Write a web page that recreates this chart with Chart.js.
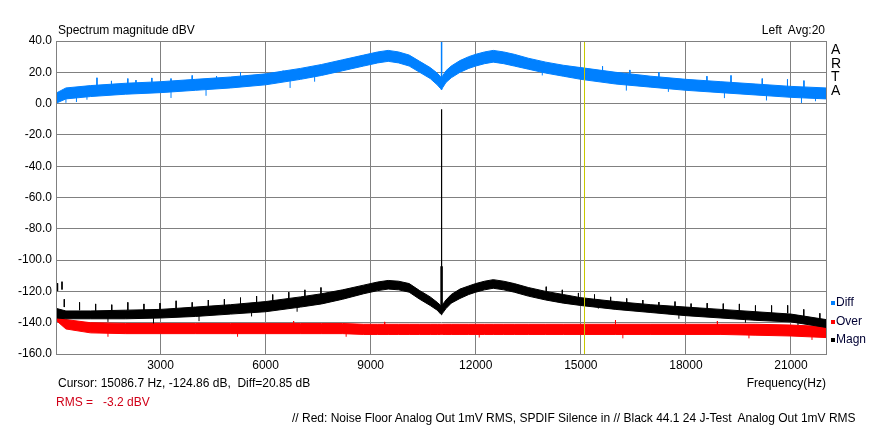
<!DOCTYPE html>
<html>
<head>
<meta charset="utf-8">
<script src="https://cdn.jsdelivr.net/npm/chart.js@4.4.1/dist/chart.umd.min.js"></script>
<style>
  body { margin: 0; background: #fff; }
  #wrap { position: relative; width: 882px; height: 429px; font-family: "Liberation Sans", Arial, sans-serif; font-size: 12px; color: #000; }
  #wrap canvas { position: absolute; left: 0; top: 0; }
  .txt { position: absolute; white-space: pre; line-height: 12px; }
  .sq { display: inline-block; width: 4px; height: 4px; margin-right: 1px; vertical-align: 1px; }
</style>
</head>
<body>
<div id="wrap">
  <canvas id="spectrum" width="882" height="429"></canvas>
  <div class="txt" style="left:58px; top:24px;">Spectrum magnitude dBV</div>
  <div class="txt" style="right:57px; top:24px;">Left  Avg:20</div>
  <div class="txt" style="left:831px; top:43px; font-size:14px; line-height:13.6px;">A<br>R<br>T<br>A</div>
  <div class="txt" style="left:831px; top:296px; color:#000033;"><span class="sq" style="background:#0080ff"></span>Diff</div>
  <div class="txt" style="left:831px; top:315px; color:#000033;"><span class="sq" style="background:#ff0000"></span>Over</div>
  <div class="txt" style="left:831px; top:333px; color:#000033;"><span class="sq" style="background:#000"></span>Magn</div>
  <div class="txt" style="left:58px; top:377px;">Cursor: 15086.7 Hz, -124.86 dB,  Diff=20.85 dB</div>
  <div class="txt" style="right:56px; top:377px;">Frequency(Hz)</div>
  <div class="txt" style="left:56px; top:396px; color:#d00018;">RMS =   -3.2 dBV</div>
  <div class="txt" style="left:292px; top:412px;">// Red: Noise Floor Analog Out 1mV RMS, SPDIF Silence in // Black 44.1 24 J-Test  Analog Out 1mV RMS</div>
</div>
<script>
const hz = [45, 300, 1000, 2000, 3000, 4000, 5000, 6000, 7000, 7600, 8200, 8800, 9200, 9500, 9800, 10100, 10400, 10700, 10900, 11000, 11025, 11050, 11150, 11300, 11550, 11800, 12000, 12250, 12500, 12800, 13100, 13500, 14000, 14500, 15000, 16000, 17000, 18000, 19000, 20000, 21000, 22000];

// Diff (blue) noise band, dBV
const diffHi = [7, 10, 11.5, 13, 14, 15.5, 17, 19, 22.5, 25, 28, 31, 33, 34, 33, 31, 27, 23, 19.5, 17, 16.5, 17.5, 21, 24, 27.5, 30, 31.5, 33, 34, 33, 31.5, 29, 26.5, 24.5, 23, 20, 17.5, 15.5, 14, 12.5, 11, 10];
const diffLo = [0.5, 3, 4.5, 6, 7, 8.5, 10, 12, 15.5, 18, 21, 24, 26, 27, 26, 24, 20, 16, 12, 9.5, 8.7, 10, 13.5, 16.5, 20, 22.5, 24, 25.5, 26.5, 25.5, 24, 22, 19.5, 17.5, 15.5, 12.5, 10.5, 8.5, 7, 5.5, 4, 3];

// Magn (black) noise band
const magnHi = [-131, -132.5, -132.5, -132, -131.5, -130, -128.5, -126.5, -123.5, -121.5, -119, -116, -114, -113, -113.5, -115, -119.5, -123.5, -127, -129, -129, -128.5, -125.5, -122, -118.5, -116.5, -115, -113.5, -112.5, -113.5, -115, -117.5, -120, -122, -124, -126.5, -128.5, -130, -131.5, -133, -134.5, -138];
const magnLo = [-137, -137.5, -137.5, -137.5, -137, -136, -134.5, -133, -130, -128, -125, -121.5, -119.5, -118.5, -119, -120.5, -125, -129, -132, -134.5, -135, -134, -131, -127.5, -124.5, -122, -120.5, -119, -118, -119, -120.5, -123, -125.5, -127.5, -129, -131.5, -133.5, -135.5, -137, -138.5, -139.5, -143];

// Over (red) noise band
const overHi = [-136, -138, -140, -140.5, -140.5, -140.5, -140.5, -140.5, -140.5, -140.5, -140.5, -141, -141, -141, -141, -141, -141, -141, -141, -141, -141, -141, -141, -141, -141, -141, -141, -141, -141, -141, -141, -141, -141, -141, -141, -141, -141, -141, -141, -141, -141.5, -142.5];
const overLo = [-139, -144, -146.5, -147, -147, -147, -147, -147, -147, -147, -147, -147.5, -147.5, -147.5, -147.5, -147.5, -147.5, -147.5, -147.5, -147.5, -147.5, -147.5, -147.5, -147.5, -147.5, -147.5, -147.5, -147.5, -147.5, -147.5, -147.5, -147.5, -147.5, -147.5, -147.5, -147.5, -147.5, -147.5, -147.5, -148, -148.5, -149.5];

// test tone at fs/4
const toneHz = 11025;
const diffTone = 40;
const magnTone = -3.6;
const magnSkirt = -104;

// J-test spurs sticking up out of the bands
const magnSpikeHz = [62, 188, 253, 689, 1148, 1608, 2067, 2527, 2986, 3446, 3905, 4365, 4824, 5284, 5743, 6203, 6662, 7122, 7581, 14013, 14472, 14932, 15391, 15851, 16310, 16770, 17229, 17689, 18148, 18608, 19067, 19527, 19986, 20446, 20905, 21365, 21824];
const magnSpikeTop = [-114.8, -113.8, -125, -127, -128, -128.5, -127, -128, -127.5, -126, -127, -125.5, -125, -124, -123, -122, -120.5, -119, -117.5, -117, -119, -121, -122, -123.5, -124.5, -125.5, -126.8, -126.5, -127.8, -127.5, -127.8, -128, -129, -129, -128.9, -131.5, -134];
const diffSpikeHz = [1186, 1600, 2067, 2300, 2753, 3300, 3905, 4600, 5284, 6500, 15620, 16400, 17229, 18600, 19288, 20180, 20900, 21370];
const diffSpikeTop = [16.5, 14.5, 16, 15, 16.4, 16, 18, 17.5, 20, 21, 23.8, 21.5, 20, 17.5, 18, 16, 15.5, 14.7];
const overSpikeHz = [6800, 9400, 15990, 18900];
const overSpikeTop = [-139, -139.5, -138.4, -139];

// noise dips hanging below the bands
const diffDipHz = [300, 600, 900, 3300, 4300, 6700, 7400, 13900, 16300, 17500, 19100, 20300, 21300, 21700];
const diffDipBottom = [0.5, 1, 2.5, 3.6, 5, 10, 14, 18, 8.3, 7.5, 3.5, 2, 0.4, 1.5];
const magnDipHz = [1500, 2800, 4100, 5600, 6900, 15500, 17800, 19700, 21200];
const magnDipBottom = [-139.5, -140.5, -139, -136, -133, -131, -137.5, -140, -141.5];
const overDipHz = [1500, 5200, 8300, 12100, 16200, 19800, 21600];
const overDipBottom = [-149, -149, -149, -149.5, -150, -150, -151];

const xTicks = [3000, 6000, 9000, 12000, 15000, 18000, 21000];
const cursorHz = 15086.7;

const band = (ys) => hz.map((f, i) => ({x: f, y: ys[i]}));
const spikes = (fs, ends, depth) => fs.flatMap((f, i) => [{x: f, y: ends[i]}, {x: f, y: ends[i] - depth}, {x: f, y: null}]);

const frame = {
  id: 'frame',
  afterDatasetsDraw(chart) {
    const {ctx, chartArea: a, scales: {x}} = chart;
    const cx = Math.round(x.getPixelForValue(cursorHz)) + 0.5;
    ctx.save();
    ctx.strokeStyle = '#c8c800';
    ctx.lineWidth = 1;
    ctx.beginPath();
    ctx.moveTo(cx, a.top);
    ctx.lineTo(cx, a.bottom);
    ctx.stroke();
    ctx.strokeStyle = '#808080';
    ctx.strokeRect(Math.round(a.left) - 0.5, Math.round(a.top) + 0.5, Math.round(a.right - a.left) + 1, Math.round(a.bottom - a.top));
    ctx.restore();
  }
};

const BLUE = '#0080ff', RED = '#ff0000', BLACK = '#000000';

new Chart(document.getElementById('spectrum'), {
  type: 'line',
  data: {
    datasets: [
      {data: [{x: toneHz, y: diffTone}, {x: toneHz, y: 12}], borderColor: BLUE, borderWidth: 1.5},
      {data: spikes(diffSpikeHz, diffSpikeTop, 6), borderColor: BLUE},
      {data: spikes(diffDipHz, diffDipBottom, -6), borderColor: BLUE},
      {data: band(diffHi), borderColor: BLUE},
      {data: band(diffLo), borderColor: BLUE, fill: '-1', backgroundColor: BLUE},
      {data: [{x: toneHz, y: magnTone}, {x: toneHz, y: -132}], borderColor: BLACK, borderWidth: 1.2},
      {data: [{x: toneHz, y: magnSkirt}, {x: toneHz, y: -130}], borderColor: BLACK, borderWidth: 2.5},
      {data: spikes(magnSpikeHz, magnSpikeTop, 5), borderColor: BLACK},
      {data: spikes(magnDipHz, magnDipBottom, -5), borderColor: BLACK},
      {data: band(magnHi), borderColor: BLACK},
      {data: band(magnLo), borderColor: BLACK, fill: '-1', backgroundColor: BLACK},
      {data: spikes(overSpikeHz, overSpikeTop, 4), borderColor: RED},
      {data: spikes(overDipHz, overDipBottom, -4), borderColor: RED},
      {data: band(overHi), borderColor: RED},
      {data: band(overLo), borderColor: RED, fill: '-1', backgroundColor: RED}
    ]
  },
  options: {
    responsive: false,
    devicePixelRatio: 1,
    animation: false,
    spanGaps: false,
    layout: {padding: {left: 0, top: 41, right: 56, bottom: 0}},
    elements: {
      point: {radius: 0},
      line: {borderWidth: 1, tension: 0}
    },
    plugins: {
      legend: {display: false},
      tooltip: {enabled: false}
    },
    scales: {
      x: {
        type: 'linear',
        min: 45,
        max: 22000,
        afterBuildTicks: (s) => { s.ticks = xTicks.map(v => ({value: v})); },
        afterFit: (s) => { s.height = 75; },
        border: {display: false},
        grid: {color: '#808080', drawTicks: false},
        ticks: {
          padding: 4,
          maxRotation: 0,
          color: '#000',
          font: {family: 'Liberation Sans', size: 12},
          callback: (v) => String(v)
        }
      },
      y: {
        min: -160,
        max: 40,
        afterFit: (s) => { s.width = 57; },
        border: {display: false},
        grid: {color: '#808080', drawTicks: false},
        ticks: {
          stepSize: 20,
          padding: 5,
          color: '#000',
          font: {family: 'Liberation Sans', size: 12},
          callback: (v) => v.toFixed(1)
        }
      }
    }
  },
  plugins: [frame]
});
</script>
</body>
</html>
